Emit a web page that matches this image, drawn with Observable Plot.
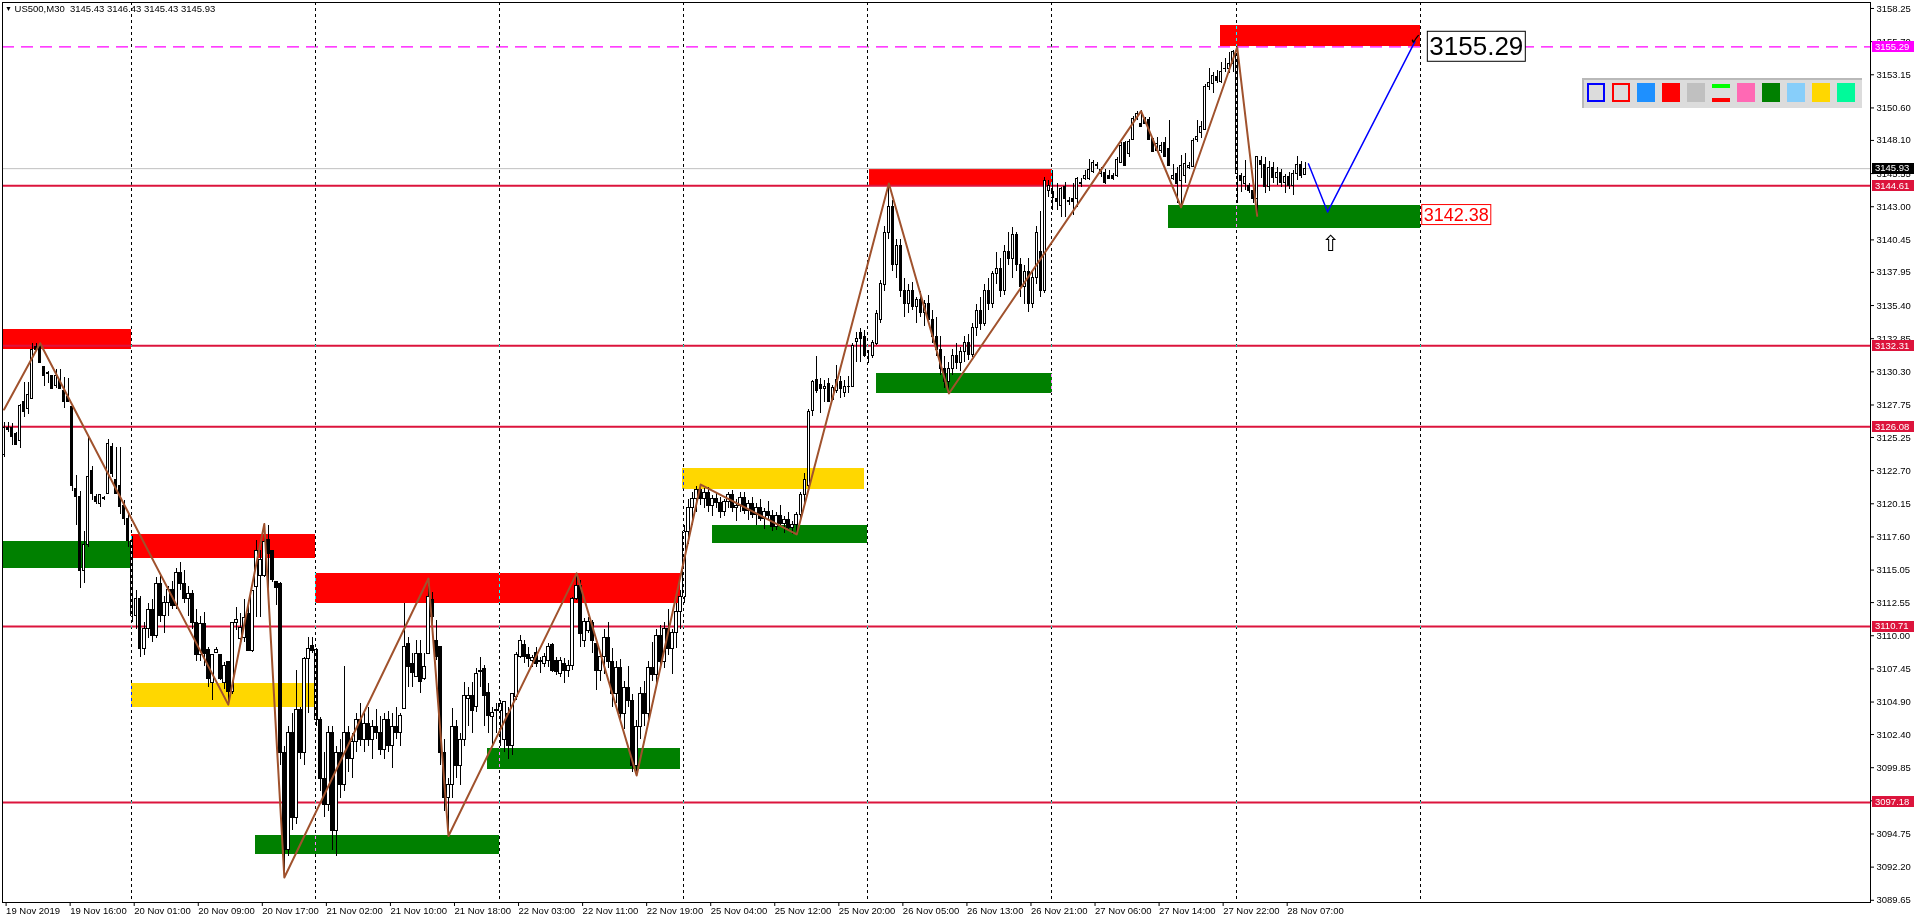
<!DOCTYPE html>
<html><head><meta charset="utf-8">
<script src="https://cdn.jsdelivr.net/npm/d3@7"></script>
<script src="https://cdn.jsdelivr.net/npm/@observablehq/plot@0.6"></script>
<style>
html,body{margin:0;padding:0;background:#fff;overflow:hidden;}
#wrap{position:relative;width:1916px;height:923px;font-family:"Liberation Sans",Arial,sans-serif;}
#wrap svg{display:block;position:absolute;left:0;top:0;}
#hdr{position:absolute;left:5px;top:3px;font-size:9.5px;line-height:12px;color:#000;white-space:pre;z-index:2;}
#hdr .tri{font-size:7px;vertical-align:1px;}
#pal{position:absolute;left:1582px;top:78px;width:278px;height:28px;background:#DCDCDC;border-top:2px solid #B9B9B9;border-left:2px solid #B9B9B9;z-index:2;}
.sw{position:absolute;top:3px;width:18px;height:19px;box-sizing:border-box;}
</style></head>
<body><div id="wrap"><div id="hdr"><span class="tri">▼</span> US500,M30  3145.43 3146.43 3145.43 3145.93</div><div id="pal"></div></div>
<script>
// ---------- data (M30 candles, [open, high, low, close]) ----------
const nov19 = [
[3123.9,3126.4,3123.7,3126.0],[3126.0,3126.4,3125.6,3125.8],[3126.0,3126.3,3124.6,3125.3],[3125.5,3125.65,3124.6,3124.7],
[3125.0,3127.8,3124.4,3127.7],[3128.0,3129.5,3126.8,3127.2],[3127.45,3129.5,3127.0,3128.5],[3128.2,3132.45,3128.2,3132.0],
[3132.2,3132.45,3131.9,3131.95],[3132.2,3132.45,3131.0,3131.0],[3130.7,3130.7,3129.2,3130.0],[3130.2,3130.3,3129.4,3130.15],
[3130.0,3130.0,3129.0,3129.0],[3129.2,3130.5,3129.0,3130.0],[3129.7,3130.5,3128.96,3128.96],[3128.86,3129.9,3127.5,3127.96],
[3128.35,3129.8,3127.96,3127.96],[3127.58,3127.58,3121.06,3121.48],[3121.3,3122.3,3118.5,3120.7],[3120.7,3121.1,3113.6,3115.0],
[3115.0,3118.0,3114.0,3117.0],[3117.0,3125.3,3116.8,3122.2],[3122.7,3123.0,3120.4,3120.9],[3120.7,3120.9,3120.1,3120.3],
[3120.1,3120.9,3119.9,3120.8],[3120.6,3120.7,3120.4,3120.55],[3120.9,3125.07,3120.9,3124.76],[3124.55,3124.76,3122.2,3122.45],
[3122.0,3124.5,3120.9,3120.9],[3121.55,3124.5,3119.3,3119.9],[3120.0,3120.4,3118.5,3119.0],[3119.0,3119.5,3116.8,3117.3]];
const nov20 = [
[3117.3,3117.6,3111.0,3111.5],[3111.5,3113.5,3110.5,3112.8],[3112.8,3113.0,3108.3,3109.0],[3109.0,3111.0,3108.5,3110.5],
[3110.5,3112.5,3109.8,3112.0],[3112.0,3112.8,3109.5,3110.0],[3110.0,3114.5,3109.8,3114.0],[3114.0,3114.8,3111.0,3111.5],
[3111.5,3113.0,3110.2,3112.5],[3112.5,3113.8,3111.5,3113.5],[3113.5,3114.2,3112.0,3112.3],[3112.3,3115.2,3112.0,3114.8],
[3114.8,3115.6,3113.5,3114.0],[3114.0,3115.0,3112.5,3112.8],[3112.8,3113.8,3111.5,3113.2],[3113.2,3113.5,3110.5,3111.0],
[3111.0,3112.0,3108.0,3108.5],[3108.5,3111.5,3108.0,3110.9],[3110.9,3111.8,3107.6,3108.6],[3108.9,3109.1,3106.0,3106.7],
[3106.4,3108.5,3105.0,3108.5],[3108.65,3109.1,3108.6,3108.9],[3108.5,3108.5,3106.55,3106.7],[3106.4,3107.96,3105.9,3107.7],
[3107.96,3107.96,3104.7,3105.65],[3105.65,3111.0,3105.5,3110.96],[3110.96,3112.2,3110.4,3111.2],[3109.76,3111.7,3109.6,3110.6],
[3109.8,3112.8,3109.5,3111.4],[3111.7,3112.7,3108.86,3108.86],[3108.86,3113.47,3108.73,3113.47],[3113.73,3117.3,3111.4,3116.55],
[3114.63,3116.55,3111.4,3115.83],[3114.63,3118.6,3114.5,3117.19],[3117.37,3118.47,3112.3,3116.3],[3116.55,3116.55,3114.12,3114.3],
[3114.1,3114.1,3112.3,3113.7],[3114.0,3114.1,3100.0,3101.0],[3101.0,3101.5,3091.4,3093.5],[3093.5,3103.0,3093.0,3102.5],
[3102.5,3104.0,3095.0,3096.0],[3096.0,3107.3,3095.5,3104.3],[3104.3,3104.5,3100.5,3101.0],[3101.0,3108.3,3100.0,3108.2],
[3108.2,3109.9,3104.0,3109.0],[3109.24,3109.9,3108.6,3108.86]];
const nov21 = [
[3108.9,3109.0,3103.0,3103.5],[3103.5,3103.7,3098.0,3099.0],[3099.0,3101.0,3096.0,3097.0],[3097.0,3103.0,3096.5,3102.5],
[3102.5,3103.0,3093.5,3095.0],[3095.0,3101.5,3093.0,3101.0],[3101.0,3102.0,3097.5,3098.5],[3098.5,3107.6,3098.0,3102.5],
[3102.5,3103.0,3099.5,3100.5],[3100.5,3102.5,3099.0,3101.8],[3101.8,3104.0,3101.0,3103.5],[3103.5,3104.8,3101.5,3102.0],
[3102.0,3104.0,3101.0,3103.2],[3103.2,3104.5,3101.5,3102.0],[3102.0,3103.5,3100.5,3103.0],[3103.0,3104.3,3102.0,3102.5],
[3102.5,3103.8,3100.8,3101.2],[3101.2,3104.0,3100.5,3103.5],[3103.5,3104.2,3101.0,3101.5],[3101.5,3104.0,3099.8,3103.0],
[3103.0,3104.5,3102.0,3102.5],[3102.5,3104.0,3101.5,3103.8],[3104.4,3112.45,3104.37,3109.12],[3109.37,3109.88,3106.04,3107.58],
[3107.83,3108.6,3106.04,3107.12],[3106.81,3109.63,3106.81,3108.6],[3108.6,3109.63,3105.53,3106.42],[3106.68,3108.6,3106.55,3107.58],
[3108.6,3114.37,3108.6,3112.96],[3112.76,3113.35,3110.14,3111.42],[3109.63,3111.17,3108.09,3108.35],[3109.12,3109.2,3100.0,3101.0],
[3101.0,3102.0,3096.5,3097.5],[3097.5,3099.0,3094.6,3098.5],[3098.5,3104.4,3097.5,3103.0],[3103.0,3103.5,3099.0,3100.0],
[3100.0,3102.5,3098.5,3102.0],[3102.0,3106.42,3101.5,3105.4],[3105.14,3106.04,3103.0,3105.4],[3105.4,3106.42,3102.5,3104.24],
[3104.5,3107.45,3104.12,3107.06],[3107.27,3108.35,3106.04,3107.2],[3107.45,3107.71,3103.0,3105.4],[3105.6,3106.3,3102.5,3103.86],
[3103.73,3104.5,3101.5,3104.04],[3104.3,3104.76,3102.5,3104.24]];
const nov22 = [
[3104.24,3105.01,3101.5,3104.76],[3102.0,3104.88,3101.0,3104.88],[3104.0,3104.5,3100.5,3101.5],[3101.5,3105.53,3100.8,3105.53],
[3105.27,3108.73,3105.01,3108.55],[3108.35,3110.01,3108.22,3109.58],[3109.3,3109.63,3107.83,3108.4],[3108.55,3109.12,3107.58,3108.22],
[3108.09,3108.47,3107.58,3108.3],[3108.68,3109.12,3107.58,3107.83],[3108.04,3108.35,3107.06,3108.0],[3107.83,3108.6,3107.58,3108.35],
[3108.09,3109.37,3107.58,3109.12],[3109.3,3109.37,3107.19,3107.32],[3108.09,3108.35,3106.94,3107.19],[3107.06,3108.35,3106.81,3108.04],
[3107.83,3108.22,3106.3,3107.32],[3107.32,3108.09,3106.81,3107.71],[3107.71,3112.96,3107.32,3112.83],[3112.83,3114.8,3112.7,3113.86],
[3113.86,3114.24,3109.12,3110.14],[3109.63,3111.29,3109.12,3111.04],[3110.4,3111.42,3110.14,3111.04],[3110.96,3111.17,3108.6,3109.63],
[3109.37,3109.37,3105.78,3107.32],[3107.32,3108.5,3106.5,3108.35],[3108.35,3110.5,3107.0,3109.8],[3109.8,3111.0,3107.5,3108.0],
[3108.0,3109.0,3104.5,3105.5],[3105.5,3108.0,3104.8,3107.5],[3107.5,3108.2,3103.5,3104.0],[3104.0,3106.5,3102.8,3106.0],
[3106.0,3107.6,3104.5,3105.0],[3105.0,3105.5,3099.5,3100.0],[3100.0,3103.5,3099.25,3103.0],[3103.0,3106.0,3102.0,3105.5],
[3105.5,3106.5,3103.0,3104.0],[3104.0,3108.0,3103.5,3107.5],[3107.5,3109.5,3106.5,3107.0],[3107.0,3110.5,3106.0,3110.0],
[3110.0,3110.8,3107.5,3108.0],[3108.0,3111.0,3107.5,3110.5],[3110.5,3112.0,3108.5,3109.0],[3109.0,3110.5,3107.0,3110.2],
[3110.2,3112.5,3109.0,3111.8],[3111.8,3113.5,3110.5,3113.0]];
const nov25 = [
[3113.0,3118.5,3112.5,3118.0],[3118.0,3120.5,3117.0,3119.8],[3119.8,3121.0,3118.5,3120.5],[3120.5,3121.5,3119.5,3121.2],
[3121.2,3121.63,3120.0,3120.5],[3120.5,3121.3,3119.8,3121.0],[3121.0,3121.4,3119.5,3120.0],[3120.0,3120.8,3119.2,3120.5],
[3120.5,3121.0,3119.8,3120.2],[3120.2,3120.6,3119.0,3119.5],[3119.5,3120.5,3119.2,3120.3],[3120.3,3121.0,3119.8,3120.8],
[3120.8,3121.2,3119.5,3119.8],[3119.8,3120.5,3118.8,3120.0],[3120.0,3121.0,3119.5,3120.6],[3120.6,3121.0,3119.3,3119.6],
[3119.6,3120.4,3118.9,3120.1],[3120.1,3120.6,3119.0,3119.3],[3119.3,3120.2,3118.5,3119.8],[3119.8,3120.5,3118.8,3119.0],
[3119.0,3119.8,3118.2,3119.5],[3119.5,3120.3,3118.9,3119.2],[3119.2,3119.6,3118.0,3118.4],[3118.4,3119.5,3118.1,3119.2],
[3119.2,3120.0,3118.3,3118.6],[3118.6,3119.2,3117.9,3118.9],[3118.9,3119.5,3118.0,3118.3],[3118.3,3118.8,3117.8,3118.5],
[3118.5,3119.5,3117.8,3119.3],[3119.3,3121.0,3119.0,3120.8],[3120.8,3122.5,3120.2,3122.0],[3121.5,3127.4,3121.0,3127.2],
[3127.32,3129.63,3126.86,3129.5],[3129.68,3131.5,3128.65,3128.86],[3129.25,3129.76,3127.1,3128.99],[3128.99,3129.63,3127.96,3129.17],
[3129.37,3129.76,3127.96,3127.96],[3128.1,3129.25,3128.0,3129.04],[3128.86,3130.8,3128.6,3129.68],[3129.5,3129.94,3128.22,3128.99],
[3128.65,3129.63,3128.3,3129.12],[3129.12,3129.94,3128.6,3129.17],[3129.12,3132.45,3129.12,3132.32],[3132.58,3133.35,3131.04,3132.83],
[3133.27,3133.6,3131.04,3132.83],[3133.0,3133.47,3131.4,3131.55]];
const nov26 = [
[3131.55,3131.94,3130.91,3131.55],[3131.55,3132.7,3131.3,3132.5],[3132.45,3135.0,3132.3,3134.76],[3134.25,3137.3,3134.0,3137.06],
[3137.0,3141.5,3136.5,3141.0],[3141.0,3144.79,3140.5,3143.0],[3143.0,3143.5,3138.0,3138.5],[3138.5,3140.5,3137.5,3140.0],
[3140.0,3140.5,3136.0,3136.5],[3136.5,3137.5,3134.5,3135.5],[3135.5,3137.0,3134.8,3136.5],[3136.5,3137.2,3135.0,3135.3],
[3135.3,3136.0,3134.0,3135.8],[3135.8,3136.5,3134.5,3134.8],[3134.8,3135.8,3133.8,3135.5],[3135.5,3136.2,3134.0,3134.3],
[3134.3,3135.0,3132.5,3133.0],[3133.0,3134.5,3131.5,3132.0],[3132.0,3133.0,3130.0,3130.5],[3130.5,3131.5,3129.0,3129.5],
[3129.5,3131.0,3128.63,3130.5],[3130.5,3132.0,3130.0,3131.5],[3131.5,3132.5,3130.5,3131.0],[3131.0,3132.2,3130.3,3131.8],
[3131.8,3133.0,3131.0,3132.5],[3132.5,3133.2,3131.2,3131.6],[3131.6,3134.0,3131.4,3133.7],[3133.7,3135.5,3133.0,3135.0],
[3135.0,3136.0,3133.5,3134.0],[3134.0,3137.0,3133.8,3136.5],[3136.5,3137.5,3135.0,3135.5],[3135.5,3138.0,3135.2,3137.8],
[3137.8,3139.5,3137.0,3138.2],[3138.2,3139.0,3136.0,3136.5],[3136.5,3140.0,3136.2,3139.5],[3139.5,3141.0,3138.5,3139.0],
[3139.0,3141.4,3137.5,3140.8],[3140.8,3141.0,3138.0,3138.5],[3138.5,3139.0,3136.0,3136.8],[3136.8,3138.5,3135.5,3138.0],
[3138.0,3139.0,3134.9,3135.5],[3135.5,3138.0,3135.2,3137.5],[3137.5,3141.5,3137.0,3141.0],[3139.5,3142.6,3136.0,3136.5],
[3136.5,3145.27,3136.3,3145.0],[3144.24,3145.0,3143.73,3144.63]];
const nov27 = [
[3144.1,3145.8,3142.7,3143.7],[3143.6,3144.76,3142.7,3143.35],[3143.09,3144.5,3142.2,3144.37],[3144.5,3144.88,3142.2,3143.6],
[3143.4,3143.73,3143.09,3143.43],[3143.6,3144.76,3142.32,3143.35],[3143.6,3145.27,3142.96,3145.14],[3144.76,3145.14,3144.5,3144.8],
[3145.14,3145.78,3145.0,3145.4],[3145.14,3146.6,3145.0,3145.83],[3145.65,3146.55,3145.52,3146.35],[3146.17,3146.42,3145.9,3146.2],
[3145.52,3146.04,3145.27,3145.83],[3145.57,3145.83,3144.7,3144.81],[3145.4,3145.78,3145.14,3145.14],[3145.4,3145.57,3145.0,3145.14],
[3145.4,3146.8,3145.27,3146.6],[3146.35,3147.96,3146.3,3147.7],[3147.9,3148.04,3146.09,3146.17],[3147.06,3148.2,3146.81,3147.96],
[3148.14,3149.94,3148.09,3149.76],[3149.76,3150.35,3149.63,3150.14],[3149.37,3150.4,3149.12,3149.12],[3149.68,3149.89,3149.32,3149.37],
[3149.68,3149.83,3148.14,3148.14],[3148.22,3148.22,3147.19,3147.19],[3147.32,3148.35,3147.19,3147.83],[3147.32,3147.96,3147.06,3147.7],
[3147.9,3148.35,3146.81,3146.81],[3147.45,3149.63,3146.17,3146.17],[3145.14,3146.25,3145.0,3145.4],[3145.52,3145.98,3143.22,3144.76],
[3145.01,3146.94,3142.96,3146.17],[3145.4,3147.06,3144.76,3146.25],[3146.0,3146.42,3145.83,3146.17],[3146.04,3148.22,3146.04,3148.04],
[3148.14,3149.63,3147.96,3148.4],[3148.65,3149.58,3148.22,3149.17],[3148.91,3152.4,3148.86,3152.24],[3152.24,3153.6,3151.94,3152.5],
[3152.45,3153.35,3151.68,3153.09],[3152.96,3153.47,3152.45,3152.7],[3152.58,3154.12,3152.45,3153.35],[3153.6,3154.37,3153.35,3153.62],
[3153.6,3154.88,3153.22,3153.99],[3153.99,3155.01,3153.35,3154.88]];
const nov28 = [
[3154.88,3155.27,3143.22,3145.52],[3145.34,3145.52,3144.12,3145.01],[3144.76,3146.55,3144.24,3145.27],[3144.63,3144.76,3143.99,3144.24],
[3144.24,3144.88,3143.22,3143.6],[3143.6,3146.86,3142.3,3146.86],[3146.5,3146.9,3145.2,3146.2],[3146.2,3146.8,3144.0,3144.5],
[3144.5,3146.5,3144.2,3146.0],[3146.0,3146.4,3144.8,3145.2],[3145.2,3146.0,3144.6,3145.6],[3145.6,3145.9,3144.5,3144.8],
[3144.8,3145.5,3144.0,3145.3],[3145.3,3145.6,3144.3,3144.6],[3144.6,3145.8,3143.9,3145.5],[3145.5,3146.9,3145.0,3146.2],
[3146.2,3146.5,3145.2,3145.4],[3145.43,3146.43,3145.43,3145.93]];

// ZigZag pivots [bar, price]
const zigzag = [[0,3127.4],[9,3132.5],[56,3104.7],[65,3118.6],[70,3091.4],[106,3114.4],[111,3094.6],[143,3114.8],
 [158,3099.25],[174,3121.63],[198,3117.8],[221,3144.79],[236,3128.63],[284,3150.35],[294,3142.96],[308,3155.27],[313,3142.3]];
// projected path (blue)
const projection = [[325.8,3146.3],[330.6,3142.6],[352.4,3155.7]];

// supply / demand zones
const zoneBars1 = [-0.4,-0.4,31.85,31.85,77.85,62.85,120.85,169.35,176.85,216.1,217.85,303.85,290.85];
const zoneBars2 = [31.85,31.85,77.85,77.85,168.85,123.85,168.85,214.85,215.6,261.85,261.85,353.85,353.85];
const zoneLow  = [3132.02,3115.17,3115.94,3104.48,3112.48,3093.17,3099.71,3121.25,3117.1,3144.63,3128.63,3155.33,3141.33];
const zoneHigh = [3133.56,3117.25,3117.79,3106.33,3114.79,3094.63,3101.32,3122.86,3118.48,3145.86,3130.17,3156.94,3143.09];
const zoneColor = ["#FF0000","#008000","#FF0000","#FFD700","#FF0000","#008000","#008000","#FFD700","#008000","#FF0000","#008000","#FF0000","#008000"];

const levels = [3144.61,3132.31,3126.08,3110.71,3097.18];
const bidPrice = 3145.93;
const targetLevel = 3155.29;
const daySeparators = [32,78,124,170,216,262,308,354];

const yTicks = [3158.25,3155.70,3153.15,3150.60,3148.10,3145.55,3143.00,3140.45,3137.95,3135.40,3132.85,3130.30,3127.75,
 3125.25,3122.70,3120.15,3117.60,3115.05,3112.55,3110.00,3107.45,3104.90,3102.40,3099.85,3097.30,3094.75,3092.20,3089.65];
const xTickBars = [0,16,32,48,64,80,96,112,128,144,160,176,192,208,224,240,256,272,288,304,320];
const xTickLabels = ["19 Nov 2019","19 Nov 16:00","20 Nov 01:00","20 Nov 09:00","20 Nov 17:00","21 Nov 02:00","21 Nov 10:00",
 "21 Nov 18:00","22 Nov 03:00","22 Nov 11:00","22 Nov 19:00","25 Nov 04:00","25 Nov 12:00","25 Nov 20:00","26 Nov 05:00",
 "26 Nov 13:00","26 Nov 21:00","27 Nov 06:00","27 Nov 14:00","27 Nov 22:00","28 Nov 07:00"];

const priceTags = [[3155.29,"#FF00FF"],[3145.93,"#000000"],[3144.61,"#DC143C"],[3132.31,"#DC143C"],[3126.08,"#DC143C"],[3110.71,"#DC143C"],[3097.18,"#DC143C"]];
const boxLabels = [{bar:356.0, price:3155.29, text:"3155.29", size:26, color:"#000000"},
                   {bar:354.6, price:3142.38, text:"3142.38", size:18, color:"#FF0000"}];
const glyphs = [{bar:352.6, price:3155.9, text:"✓", size:15}, {bar:331.3, price:3140.1, text:"⇧", size:22}];
const paletteItems = [["outline","#0000FF"],["outline","#FF0000"],["fill","#1E90FF"],["fill","#FF0000"],["fill","#C0C0C0"],
 ["bars","#00FF00"],["fill","#FF69B4"],["fill","#008000"],["fill","#87CEFA"],["fill","#FFD700"],["fill","#00FA9A"]];

// ---------- build ----------
const candles = [nov19,nov20,nov21,nov22,nov25,nov26,nov27,nov28].flat()
  .map((r,i)=>({i, o:r[0], h:r[1], l:r[2], c:r[3]}));
const zones = zoneLow.map((v,k)=>({x1:zoneBars1[k], x2:zoneBars2[k], y1:v, y2:zoneHigh[k], fill:zoneColor[k]}));
const xLabelMap = new Map(xTickBars.map((b,k)=>[b, xTickLabels[k]]));

const chart = Plot.plot({
  width: 1916, height: 923,
  marginLeft: 2, marginRight: 46, marginTop: 2, marginBottom: 21,
  style: {fontFamily: '"Liberation Sans", Arial, sans-serif', fontSize: "9.5px", background: "#fff", overflow: "visible", color: "#000"},
  x: {domain: [-0.4, 466.2]},
  y: {domain: [3089.48, 3158.71]},
  marks: [
    Plot.frame({fill: "white", stroke: null}),
    Plot.rect(zones, {x1: "x1", x2: "x2", y1: "y1", y2: "y2", fill: "fill", shapeRendering: "crispEdges"}),
    Plot.ruleY(levels, {stroke: "#DC143C", strokeWidth: 2}),
    Plot.ruleY([bidPrice], {stroke: "#C0C0C0", strokeWidth: 1}),
    Plot.ruleY([targetLevel], {stroke: "#FF00FF", strokeWidth: 1.2, strokeDasharray: "12,7"}),
    Plot.ruleX(candles, {x: "i", y1: "l", y2: "h", stroke: "black", strokeWidth: 1, shapeRendering: "crispEdges"}),
    Plot.rect(candles, {x1: d => d.i - 0.32, x2: d => d.i + 0.32, y1: "o", y2: "c",
      fill: d => d.c >= d.o ? "white" : "black", stroke: "black", strokeWidth: 1, shapeRendering: "crispEdges"}),
    Plot.ruleX(daySeparators, {x: d => d - 0.25, stroke: "white", strokeWidth: 1, strokeDasharray: "3,3", mixBlendMode: "difference", shapeRendering: "crispEdges"}),
    Plot.line(zigzag, {x: d => d[0], y: d => d[1], stroke: "#A0522D", strokeWidth: 2}),
    Plot.line(projection, {x: d => d[0], y: d => d[1], stroke: "#0000FF", strokeWidth: 1.5}),
    Plot.text(boxLabels, {x: "bar", y: "price", text: "text", fontSize: "size", fill: "color", textAnchor: "start"}),
    Plot.text(glyphs, {x: "bar", y: "price", text: "text", fontSize: "size", fill: "black", fontFamily: "DejaVu Sans"}),
    Plot.axisY({anchor: "right", ticks: yTicks, tickFormat: d => d.toFixed(2), tickSize: 3, tickPadding: 3, label: null}),
    Plot.axisX({ticks: xTickBars, tickFormat: d => xLabelMap.get(d), tickSize: 4, tickPadding: 1, textAnchor: "start", dx: 2, label: null}),
    Plot.frame({stroke: "black"})
  ]
});
const wrap = document.getElementById("wrap");
wrap.insertBefore(chart, wrap.firstChild);

// boxes around the big price labels
const boxTexts = new Set(boxLabels.map(d => d.text));
Array.from(chart.querySelectorAll("text")).filter(t => boxTexts.has(t.textContent)).forEach(t => {
  const b = t.getBBox();
  const col = t.getAttribute("fill") || (t.parentNode.getAttribute && t.parentNode.getAttribute("fill")) || "black";
  const r = document.createElementNS("http://www.w3.org/2000/svg", "rect");
  r.setAttribute("x", b.x - 2); r.setAttribute("y", b.y); r.setAttribute("width", b.width + 4); r.setAttribute("height", b.height);
  r.setAttribute("fill", "white"); r.setAttribute("stroke", col); r.setAttribute("stroke-width", 1);
  if (t.getAttribute("transform")) r.setAttribute("transform", t.getAttribute("transform"));
  t.parentNode.insertBefore(r, t);
});

// coloured price tags on the right scale
const ys = chart.scale("y"), xs = chart.scale("x");
const xr = xs.range[1];
const tg = d3.select(chart).append("g").attr("font-size", 9.5).attr("text-anchor", "start");
priceTags.forEach(([p, bg]) => {
  const yy = ys.apply(p);
  tg.append("rect").attr("x", xr + 2).attr("y", yy - 5.5).attr("width", 42).attr("height", 11).attr("fill", bg).attr("shape-rendering", "crispEdges");
  tg.append("text").attr("x", xr + 5).attr("y", yy).attr("dy", "0.35em").attr("text-anchor", "start").attr("fill", "white").text(p.toFixed(2));
});

// object palette toolbar
const pal = document.getElementById("pal");
paletteItems.forEach(([kind, col], k) => {
  const d = document.createElement("div");
  d.className = "sw";
  d.style.left = (3 + 25 * k) + "px";
  if (kind === "outline") { d.style.border = "2px solid " + col; }
  else if (kind === "fill") { d.style.background = col; }
  else {
    d.innerHTML = '<div style="position:absolute;left:0;top:1px;width:18px;height:4px;background:' + col +
      '"></div><div style="position:absolute;left:0;bottom:0;width:18px;height:4px;background:#FF0000"></div>';
  }
  pal.appendChild(d);
});
</script>
</body></html>
